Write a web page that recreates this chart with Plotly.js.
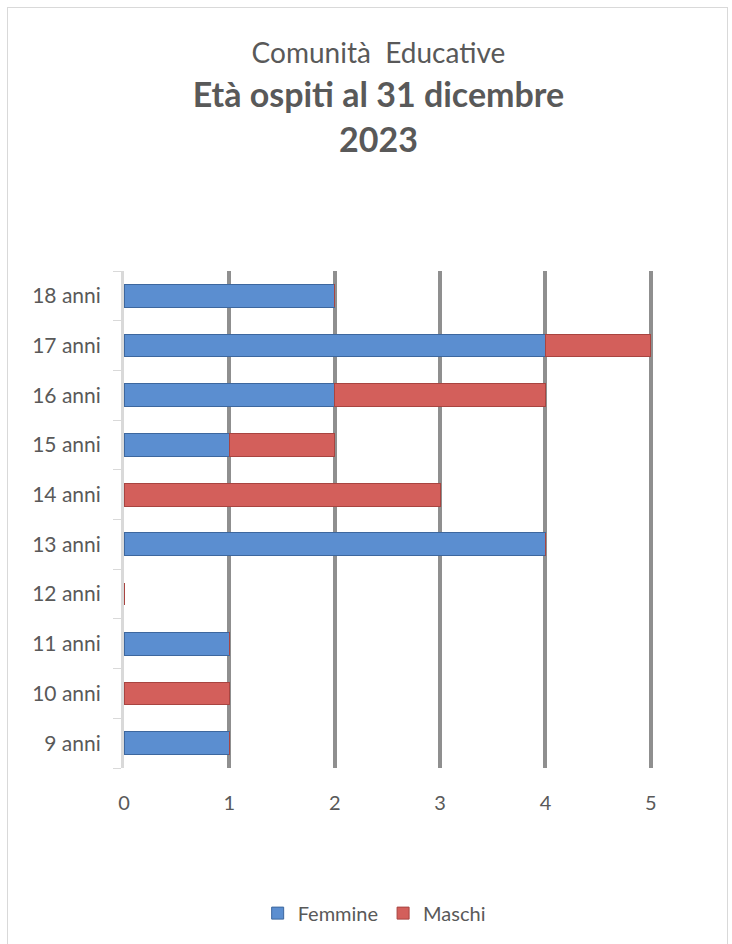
<!DOCTYPE html>
<html><head><meta charset="utf-8">
<script src="https://cdn.plot.ly/plotly-3.0.1.min.js"></script>
<style>
html,body{margin:0;padding:0;background:#fff;}
#frame{position:absolute;left:7px;top:7px;width:721px;height:945px;border:1px solid #d9d9d9;box-sizing:border-box;}
#chart{position:absolute;left:0;top:0;width:732px;height:944px;}
</style></head>
<body>
<div id="frame"></div>
<div id="chart"></div>
<script>
const categories = ["9 anni","10 anni","11 anni","12 anni","13 anni","14 anni","15 anni","16 anni","17 anni","18 anni"];
const femmine = [1,0,1,0,4,0,1,2,4,2];
const maschi  = [0,1,0,0,0,3,1,2,1,0];
const xTicks = [0,1,2,3,4,5];

const font = "Lato, 'Open Sans', sans-serif";
const data = [
  {type:"bar", orientation:"h", name:"Femmine", y:categories, x:femmine,
   marker:{color:"#5b8ed0", line:{color:"#3d679e", width:1}}, width:0.46},
  {type:"bar", orientation:"h", name:"Maschi", y:categories, x:maschi,
   marker:{color:"#d35f5b", line:{color:"#a84440", width:1}}, width:0.46}
];
const layout = {
  width:732, height:944,
  paper_bgcolor:"rgba(0,0,0,0)", plot_bgcolor:"rgba(0,0,0,0)",
  barmode:"stack", bargap:0.5,
  margin:{l:124, r:78, t:271, b:173},
  font:{family:font, color:"#595959", size:20},
  title:{text:"<span style='font-size:28px;font-weight:normal'>Comunità  Educative</span><br><b>Età ospiti al 31 dicembre</b><br><b>2023</b>",
         font:{size:34, color:"#595959", family:font}, x:0.517, xanchor:"center", y:0.9330, yanchor:"middle", yref:"container"},
  xaxis:{range:[0,5.03], tickvals:xTicks, ticktext:xTicks.map(String), showgrid:true, gridcolor:"#8f8f8f", gridwidth:4,
         zeroline:false, showline:false, ticks:"", tickfont:{size:20, color:"#595959"}, ticklabelstandoff:21},
  yaxis:{type:"category", categoryarray:categories, range:[-0.5,9.5], showgrid:false, zeroline:false,
         showline:true, linecolor:"#d9d9d9", linewidth:3, ticks:"outside", tickson:"boundaries", ticklen:8, tickcolor:"#d9d9d9",
         tickfont:{size:21, color:"#595959"}, ticklabelstandoff:16},
  legend:{orientation:"h", x:0.472, xanchor:"center", y:-0.292, yanchor:"middle", font:{size:20, color:"#595959"},
          traceorder:"normal", itemwidth:30, entrywidthmode:"pixels"},
  showlegend:true
};
Plotly.newPlot("chart", data, layout, {displayModeBar:false, staticPlot:true});
</script>
</body></html>
